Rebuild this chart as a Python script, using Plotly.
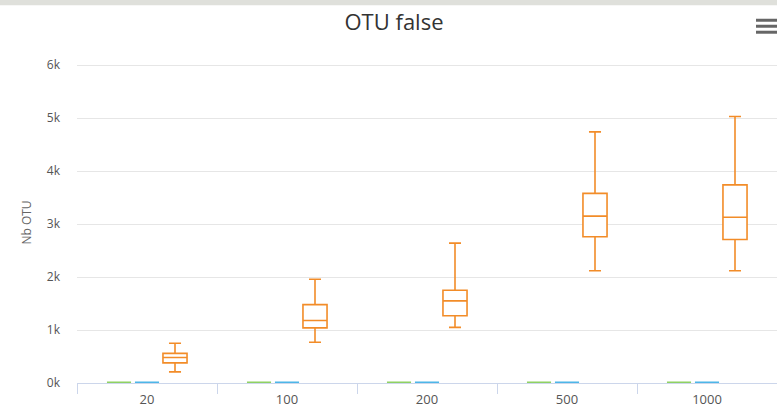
import plotly.graph_objects as go

# Sample-size categories on the x axis
categories = ["20", "100", "200", "500", "1000"]

# Five-number summaries per series (values in OTU counts)
green_low = [0, 0, 0, 0, 0]
green_q1 = [0, 0, 0, 0, 0]
green_med = [0, 0, 0, 0, 0]
green_q3 = [0, 0, 0, 0, 0]
green_high = [0, 0, 0, 0, 0]

blue_low = [0, 0, 0, 0, 0]
blue_q1 = [0, 0, 0, 0, 0]
blue_med = [0, 0, 0, 0, 0]
blue_q3 = [0, 0, 0, 0, 0]
blue_high = [0, 0, 0, 0, 0]

orange_low = [210, 770, 1050, 2120, 2120]
orange_q1 = [380, 1040, 1270, 2760, 2710]
orange_med = [480, 1180, 1550, 3150, 3130]
orange_q3 = [560, 1480, 1750, 3580, 3740]
orange_high = [750, 1960, 2640, 4740, 5030]

# Y axis ticks
y_tick_values = [0, 1000, 2000, 3000, 4000, 5000, 6000]
y_tick_labels = ["0k", "1k", "2k", "3k", "4k", "5k", "6k"]

FONT = "Open Sans, Lato, DejaVu Sans, sans-serif"
Y_MAX = 6060  # a little headroom so the 6k grid line is drawn


def box(name, color, low, q1, med, q3, high, lw):
    return go.Box(
        name=name,
        x=categories,
        lowerfence=low,
        q1=q1,
        median=med,
        q3=q3,
        upperfence=high,
        fillcolor="#ffffff",
        line=dict(color=color, width=lw),
        whiskerwidth=0.5,
        boxpoints=False,
        hoverinfo="skip",
        showlegend=False,
    )


fig = go.Figure()
fig.add_trace(box("green", "#8fd162", green_low, green_q1, green_med, green_q3, green_high, 2.8))
fig.add_trace(box("blue", "#4db6e8", blue_low, blue_q1, blue_med, blue_q3, blue_high, 2.8))
fig.add_trace(box("orange", "#f28c28", orange_low, orange_q1, orange_med, orange_q3, orange_high, 1.6))

# plot area: value 0 sits at pixel 383.3, 6000 at pixel 65
PLOT_BOTTOM = 383.3
PX_PER_UNIT = (383.3 - 65) / 6000
PLOT_TOP = PLOT_BOTTOM - Y_MAX * PX_PER_UNIT
PLOT_H = PLOT_BOTTOM - PLOT_TOP


def py(pix):
    return (PLOT_BOTTOM - pix) / PLOT_H


shapes = [
    # grey strip across the top of the page
    dict(type="rect", xref="paper", yref="paper", x0=-0.2, x1=1.05,
         y0=py(5), y1=py(-2), fillcolor="#dfe0db", line=dict(width=0), layer="above"),
]
# context-menu (hamburger) icon
for yy in (20, 26, 32):
    shapes.append(dict(type="line", xref="paper", yref="paper",
                       x0=(756 - 77) / 700, x1=(777 - 77) / 700,
                       y0=py(yy), y1=py(yy), line=dict(color="#666666", width=3)))

fig.update_layout(
    width=777,
    height=411,
    margin=dict(l=77, r=0, t=PLOT_TOP, b=411 - PLOT_BOTTOM),
    paper_bgcolor="#ffffff",
    plot_bgcolor="#ffffff",
    boxmode="group",
    boxgap=0.4,
    boxgroupgap=0.14,
    title=dict(text="OTU false", x=394 / 777, xref="container", xanchor="center",
               y=1 - 22 / 411, yref="container", yanchor="middle",
               font=dict(family=FONT, size=22, color="#333333")),
    xaxis=dict(
        type="category",
        tickson="boundaries",
        ticks="outside",
        ticklen=10,
        tickcolor="#ccd6eb",
        showline=True,
        linecolor="#ccd6eb",
        linewidth=1,
        showgrid=False,
        ticklabelstandoff=4,
        tickfont=dict(family=FONT, size=13, color="#555555"),
        fixedrange=True,
    ),
    yaxis=dict(
        range=[0, Y_MAX],
        tickvals=y_tick_values,
        ticktext=y_tick_labels,
        showgrid=True,
        gridcolor="#e6e6e6",
        gridwidth=1,
        zeroline=False,
        ticks="",
        ticklabelstandoff=16,
        tickfont=dict(family=FONT, size=12, color="#555555"),
        title=dict(text="Nb OTU", standoff=12,
                   font=dict(family=FONT, size=12, color="#666666")),
        fixedrange=True,
    ),
    shapes=shapes,
)

fig.write_html("out.html")
